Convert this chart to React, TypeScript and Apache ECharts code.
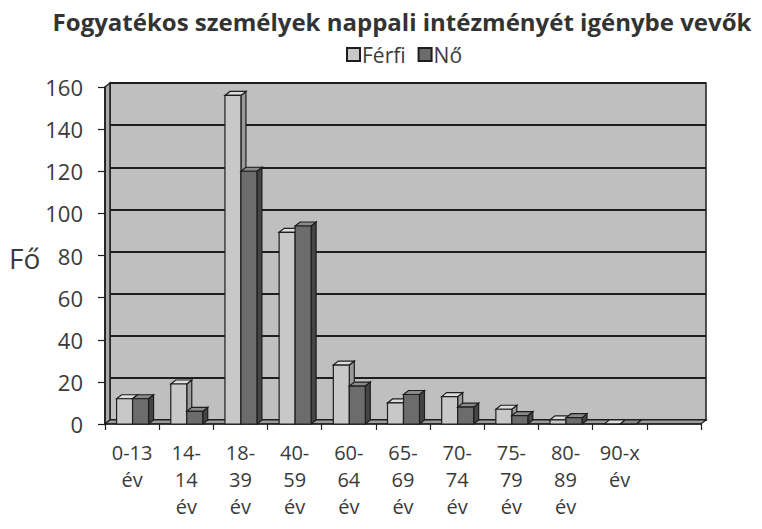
import { useEffect, useRef } from 'react';
import * as echarts from 'echarts';

const categories = ['0-13\név', '14-\n14\név', '18-\n39\név', '40-\n59\név', '60-\n64\név', '65-\n69\név', '70-\n74\név', '75-\n79\név', '80-\n89\név', '90-x\név', ''];
const ferfi = [12, 19, 156, 91, 28, 10, 13, 7, 2, 0];
const no = [12, 6, 120, 94, 18, 14, 8, 4, 3, 0];
const yTicks = { min: 0, max: 160, interval: 20 };

const FONT = 'Open Sans, sans-serif';
const TEXT = '#3a3a3a';

const palettes = [
  { front: '#c8c8c8', top: '#dedede', side: '#9a9a9a' },
  { front: '#6c6c6c', top: '#8a8a8a', side: '#444444' },
];

function makeRender(idx: number) {
  const pal = palettes[idx];
  return (params: any, api: any) => {
    const i = api.value(0);
    const v = api.value(1);
    const base = api.coord([i, 0]);
    const top = api.coord([i, v]);
    const w = api.size([1, 0])[0];
    const bw = w * 0.295;
    const x0 = base[0] - w * 0.286 + idx * bw;
    const dx = 5;
    const dy = -4;
    const yt = top[1];
    const yb = base[1];
    const stroke = { stroke: '#1e1e1e', lineWidth: 1.2 };
    return {
      type: 'group',
      children: [
        {
          type: 'polygon',
          shape: { points: [[x0 + bw, yt], [x0 + bw + dx, yt + dy], [x0 + bw + dx, yb + dy], [x0 + bw, yb]] },
          style: { fill: pal.side, ...stroke },
        },
        {
          type: 'polygon',
          shape: { points: [[x0, yt], [x0 + dx, yt + dy], [x0 + bw + dx, yt + dy], [x0 + bw, yt]] },
          style: { fill: pal.top, ...stroke },
        },
        {
          type: 'rect',
          shape: { x: x0, y: yt, width: bw, height: Math.max(yb - yt, 0) },
          style: { fill: pal.front, ...stroke },
        },
      ],
    };
  };
}

export default function App() {
  const ref = useRef<HTMLDivElement>(null);
  useEffect(() => {
    if (!ref.current) return;
    const chart = echarts.init(ref.current, null, { renderer: 'svg' });
    chart.setOption({
      animation: false,
      backgroundColor: '#ffffff',
      title: {
        text: 'Fogyatékos személyek nappali intézményét igénybe vevők',
        left: 397,
        textAlign: 'center',
        top: 4,
        textStyle: { fontFamily: 'Open Sans, sans-serif', fontWeight: 'bold', fontSize: 24, color: '#333333' },
      },
      legend: {
        top: 39,
        left: 341,
        itemWidth: 13,
        itemHeight: 13,
        itemGap: 12,
        icon: 'rect',
        textStyle: { fontFamily: FONT, fontSize: 21, color: TEXT, padding: [0, 0, 0, -3] },
        data: ['Férfi', 'Nő'],
      },
      graphic: [
        {
          type: 'polygon',
          z: 1,
          shape: { points: [[105, 424], [105, 87], [110, 83], [110, 420]] },
          style: { fill: '#a9a9a9', stroke: '#1e1e1e', lineWidth: 1.5 },
        },
        {
          type: 'polygon',
          z: 1,
          shape: { points: [[105, 424], [701, 424], [706, 420], [110, 420]] },
          style: { fill: '#9c9c9c', stroke: '#1e1e1e', lineWidth: 1.2 },
        },
        {
          type: 'text',
          x: 9,
          y: 258,
          style: { text: 'Fő', font: `28px ${FONT}`, fill: TEXT, verticalAlign: 'middle' },
        },
      ],
      grid: [
        { left: 105, right: 61, top: 87, bottom: 105 },
        { left: 110, right: 56, top: 83, bottom: 109, show: true, backgroundColor: '#bfbfbf', borderColor: '#1e1e1e', borderWidth: 1.5, z: 0 },
      ],
      xAxis: [
        {
          type: 'category',
          gridIndex: 0,
          data: categories,
          axisLine: { lineStyle: { color: '#1e1e1e', width: 1.5 } },
          axisTick: { show: true, length: 6, lineStyle: { color: '#1e1e1e', width: 1.2 } },
          axisLabel: { interval: 0, margin: 15, fontFamily: FONT, fontSize: 20, lineHeight: 27, color: TEXT },
          z: 3,
        },
        {
          type: 'category',
          gridIndex: 1,
          data: categories,
          show: false,
        },
      ],
      yAxis: [
        {
          type: 'value',
          gridIndex: 0,
          ...yTicks,
          axisLine: { show: true, lineStyle: { color: '#1e1e1e', width: 1.5 } },
          axisTick: { show: true, length: 7, lineStyle: { color: '#1e1e1e', width: 1.2 } },
          axisLabel: { margin: 22, fontFamily: FONT, fontSize: 22, color: TEXT },
          splitLine: { show: false },
          z: 3,
        },
        {
          type: 'value',
          gridIndex: 1,
          ...yTicks,
          axisLine: { show: false },
          axisTick: { show: false },
          axisLabel: { show: false },
          splitLine: { show: true, lineStyle: { color: '#1e1e1e', width: 2 } },
        },
      ],
      series: [
        {
          name: 'Férfi',
          type: 'custom',
          xAxisIndex: 0,
          yAxisIndex: 0,
          z: 5,
          itemStyle: { color: palettes[0].front, borderColor: '#1e1e1e', borderWidth: 1 },
          renderItem: makeRender(0),
          data: ferfi.map((v, i) => [i, v]),
        },
        {
          name: 'Nő',
          type: 'custom',
          xAxisIndex: 0,
          yAxisIndex: 0,
          z: 5,
          itemStyle: { color: palettes[1].front, borderColor: '#1e1e1e', borderWidth: 1 },
          renderItem: makeRender(1),
          data: no.map((v, i) => [i, v]),
        },
      ],
    });
    return () => chart.dispose();
  }, []);
  return <div ref={ref} style={{ width: 762, height: 529, position: 'absolute', left: 0, top: 0 }} />;
}
